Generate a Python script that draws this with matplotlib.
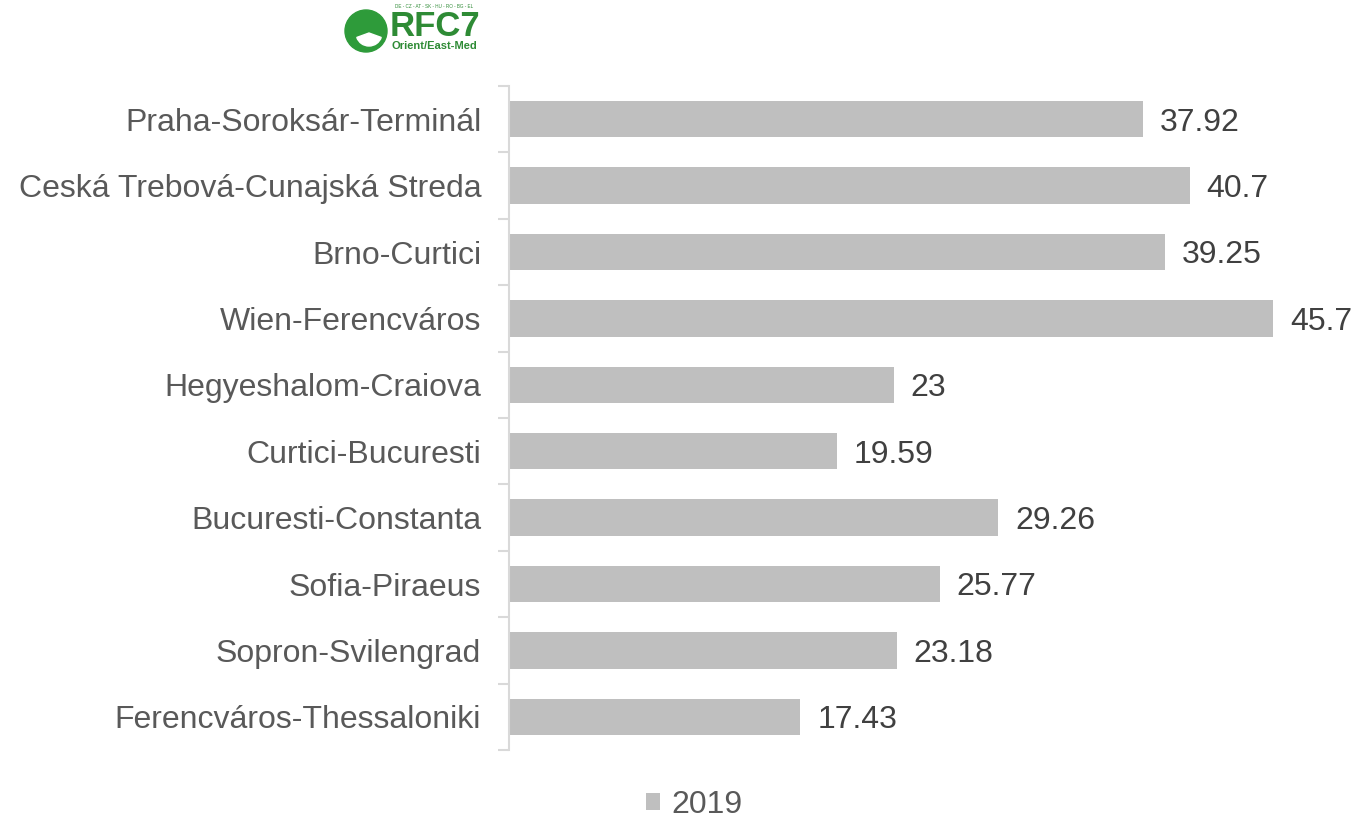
import matplotlib.pyplot as plt
import numpy as np
from matplotlib.patches import Circle, Wedge

plt.rcParams['font.family'] = ['Liberation Sans', 'DejaVu Sans']

# Dados do gráfico
corredores = ['Praha-Soroksár-Terminál', 'Ceská Trebová-Cunajská Streda', 'Brno-Curtici',
              'Wien-Ferencváros', 'Hegyeshalom-Craiova', 'Curtici-Bucuresti',
              'Bucuresti-Constanta', 'Sofia-Piraeus', 'Sopron-Svilengrad',
              'Ferencváros-Thessaloniki']
valores_2019 = [37.92, 40.7, 39.25, 45.7, 23, 19.59, 29.26, 25.77, 23.18, 17.43]
rotulos = ['37.92', '40.7', '39.25', '45.7', '23', '19.59', '29.26', '25.77', '23.18', '17.43']
serie = '2019'

cinza = '#bfbfbf'
fig = plt.figure(figsize=(13.56, 8.19), dpi=100)
ax = fig.add_axes([509 / 1356, 69 / 819, 836 / 1356, 664 / 819])

y = np.arange(len(corredores))
ax.barh(y, valores_2019, height=0.55, color=cinza, label=serie)

# valores na ponta das barras
for yi, v, r in zip(y, valores_2019, rotulos):
    ax.text(v + 1.0, yi + 0.05, r, va='center', ha='left', fontsize=23, color='#404040')

ax.set_xlim(0, 50)
ax.set_ylim(len(corredores) - 0.5, -0.5)
ax.set_xticks([])
ax.set_yticks(y)
ax.set_yticklabels(corredores, fontsize=23, color='#595959')
ax.tick_params(axis='y', length=0, pad=20)
# marcas entre categorias
ax.set_yticks(np.arange(-0.5, len(corredores) + 0.5, 1), minor=True)
ax.tick_params(axis='y', which='minor', length=8, color='#d9d9d9', width=1.5)
for s in ['top', 'right', 'bottom']:
    ax.spines[s].set_visible(False)
ax.spines['left'].set_color('#d9d9d9')
ax.spines['left'].set_linewidth(1.5)

leg = fig.legend(loc='center', bbox_to_anchor=(0.5 + 16 / 1356, (819 - 805) / 819),
                 frameon=False, fontsize=23, handlelength=0.45, handleheight=0.45,
                 handletextpad=0.35)
for t in leg.get_texts():
    t.set_color('#595959')

# logo RFC7
verde = '#2e8b35'
lax = fig.add_axes([335 / 1356, 1 - 58 / 819, 160 / 1356, 56 / 819])
lax.set_xlim(0, 160)
lax.set_ylim(0, 56)
lax.set_aspect('equal')
lax.axis('off')
lax.add_patch(Circle((31, 27), 21, color='#2e9b3a'))
lax.add_patch(Wedge((34, 25), 13, 200, 340, color='white'))
lax.text(55, 32, 'RFC7', fontsize=25, fontweight='bold', color=verde, va='center', ha='left')
lax.text(57, 12, 'Orient/East-Med', fontsize=8, fontweight='bold', color=verde, va='center', ha='left')
lax.text(60, 51, 'DE - CZ - AT - SK - HU - RO - BG - EL', fontsize=3.3, color=verde, va='center', ha='left')

fig.savefig('out.png', dpi=100)
